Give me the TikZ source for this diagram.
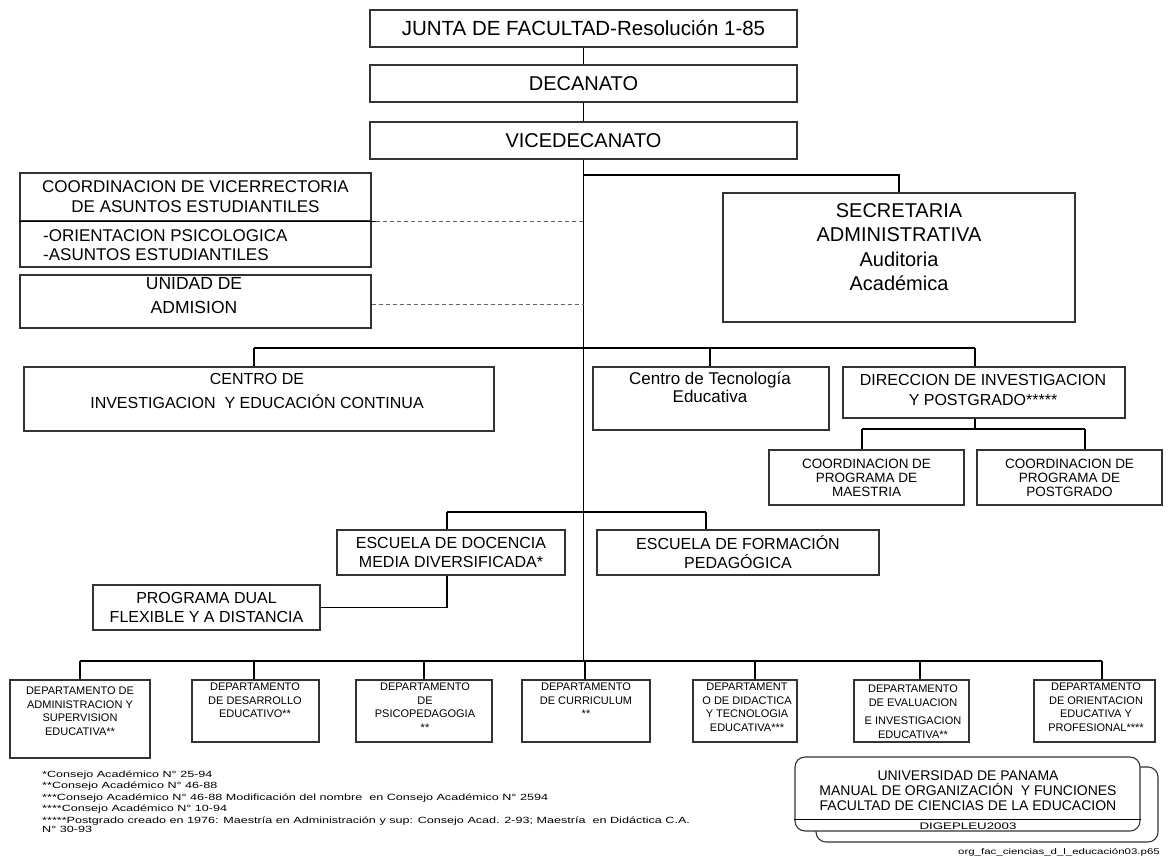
\documentclass[tikz,border=0pt]{standalone}
\usepackage{fontspec}
\setmainfont{Liberation Sans}
\newfontfamily\wideface[FakeStretch=1.4]{Liberation Sans}
\newcommand\fsz[2]{\fontsize{#1}{#2}\selectfont}
\tikzset{
  box/.style={draw=black!80,line width=1.1pt,fill=white,inner sep=0pt,align=center},
  txt/.style={inner sep=0pt,align=center},
  link/.style={line width=1.1pt},
  dashlink/.style={black!60,line width=1.2pt,dash pattern=on 4pt off 3pt},
  dept/.style={box,minimum height=62},
  depttxt/.style={txt,anchor=north,font=\fsz{11}{13.5}}
}
\begin{document}
\begin{tikzpicture}[x=1pt,y=-1pt]
  \useasboundingbox[fill=white] (0,0) rectangle (1169,860);
  \node[box,minimum width=427,minimum height=37,font=\fsz{20.5}{24}] (junta) at (583.5,28.5) {JUNTA DE FACULTAD-Resolución 1-85};
  \node[box,minimum width=427,minimum height=37,font=\fsz{20}{24}] (decanato) at (583.5,83.5) {DECANATO};
  \node[box,minimum width=427,minimum height=37,font=\fsz{20}{24}] (vice) at (583.5,140.5) {VICEDECANATO};
  \draw[link] (junta) -- (decanato);
  \draw[link] (decanato) -- (vice);
  \coordinate (jsec) at (583.5,175);
  \coordinate (jrow) at (583.5,348);
  \coordinate (jesc) at (583.5,512);
  \coordinate (jdep) at (583.5,661);
  \draw[link] (vice.south) -- (jdep);
  \node[box,minimum width=351,minimum height=48,font=\fsz{17}{20}] (coordA) at (195.5,197) {COORDINACION DE VICERRECTORIA\\DE ASUNTOS ESTUDIANTILES};
  \node[box,minimum width=351,minimum height=46] (coordB) at (195.5,244) {};
  \node[txt,align=left,anchor=west,font=\fsz{17}{19.5}] (coordB-t) at (43,245) {-ORIENTACION PSICOLOGICA\\-ASUNTOS ESTUDIANTILES};
  \node[box,minimum width=351,minimum height=53] (unidad) at (195.5,301.5) {};
  \node[txt,font=\fsz{17.5}{24}] (unidad-t) at (194,296) {UNIDAD DE\\ADMISION};
  \draw[link] (coordA.south west) -- ++(357,0) coordinate (dA);
  \draw[dashlink] (dA) -- (dA -| jdep);
  \draw[dashlink] ([yshift=-3pt]unidad.east) -- ([yshift=-3pt]unidad.east -| jdep);
  \node[box,minimum width=352,minimum height=129] (secre) at (899,257.5) {};
  \node[txt,font=\fsz{20}{24.5}] (secre-t) at (899,247) {SECRETARIA\\ADMINISTRATIVA\\Auditoria\\Académica};
  \draw[link] (jsec) -| (secre.north);
  \node[box,minimum width=470,minimum height=64] (cinv) at (259,399) {};
  \node[txt,font=\fsz{16}{24}] (cinv-t) at (257,391) {CENTRO DE\\INVESTIGACION\ \ Y EDUCACIÓN CONTINUA};
  \node[box,minimum width=236,minimum height=63] (ctec) at (711,398.5) {};
  \node[txt,font=\fsz{17}{18}] (ctec-t) at (710,387) {Centro de Tecnología\\Educativa};
  \node[box,minimum width=282,minimum height=51] (dirp) at (984,392.5) {};
  \node[txt,font=\fsz{16}{20}] (dirp-t) at (983,390) {DIRECCION DE INVESTIGACION\\Y POSTGRADO*****};
  \coordinate (jci) at (254,348);
  \coordinate (jct) at (710,348);
  \coordinate (jdi) at (975,348);
  \draw[link] (jci) -- (jdi);
  \draw[link] (jci) -- (jci |- cinv.north);
  \draw[link] (jct) -- (jct |- ctec.north);
  \draw[link] (jdi) -- (jdi |- dirp.north);
  \node[box,minimum width=195,minimum height=55,font=\fsz{13.5}{14}] (cmae) at (866.5,477.5) {COORDINACION DE\\PROGRAMA DE\\MAESTRIA};
  \node[box,minimum width=185,minimum height=55,font=\fsz{13.5}{14}] (cpos) at (1069.5,477.5) {COORDINACION DE\\PROGRAMA DE\\POSTGRADO};
  \coordinate (jpo) at (975,429);
  \coordinate (jma) at (862,429);
  \coordinate (jpg) at (1085,429);
  \draw[link] (jpo |- dirp.south) -- (jpo);
  \draw[link] (jma) -- (jpg);
  \draw[link] (jma) -- (jma |- cmae.north);
  \draw[link] (jpg) -- (jpg |- cpos.north);
  \node[box,minimum width=228,minimum height=45,font=\fsz{16}{19}] (edoc) at (451,552.5) {ESCUELA DE DOCENCIA\\MEDIA DIVERSIFICADA*};
  \node[box,minimum width=282,minimum height=45,font=\fsz{16}{19}] (efor) at (738,552.5) {ESCUELA DE FORMACIÓN\\PEDAGÓGICA};
  \coordinate (jed) at (447,512);
  \coordinate (jef) at (706,512);
  \draw[link] (jed) -- (jef);
  \draw[link] (jed) -- (jed |- edoc.north);
  \draw[link] (jef) -- (jef |- efor.north);
  \node[box,minimum width=227,minimum height=45,font=\fsz{16}{19}] (pdual) at (206.5,607.5) {PROGRAMA DUAL\\FLEXIBLE Y A DISTANCIA};
  \draw[link] (jed |- edoc.south) |- (pdual.east);
  \node[dept,minimum width=140,minimum height=78] (d1) at (80,719) {};
  \node[dept,minimum width=127] (d2) at (255.5,711) {};
  \node[dept,minimum width=136] (d3) at (424,711) {};
  \node[dept,minimum width=128] (d4) at (586,711) {};
  \node[dept,minimum width=104] (d5) at (745,711) {};
  \node[dept,minimum width=115] (d6) at (911.5,711) {};
  \node[dept,minimum width=121] (d7) at (1094.5,711) {};
  \node[depttxt] (d1-t) at (80,687) {DEPARTAMENTO DE\\ADMINISTRACION Y\\SUPERVISION\\EDUCATIVA**};
  \node[depttxt] (d2-t) at (255,683) {DEPARTAMENTO\\DE DESARROLLO\\EDUCATIVO**};
  \node[depttxt] (d3-t) at (425,683) {DEPARTAMENTO\\DE\\PSICOPEDAGOGIA\\**};
  \node[depttxt] (d4-t) at (586,683) {DEPARTAMENTO\\DE CURRICULUM\\**};
  \node[depttxt] (d5-t) at (747,683) {DEPARTAMENT\\O DE DIDACTICA\\Y TECNOLOGIA\\EDUCATIVA***};
  \node[depttxt] (d6-t) at (913,685) {DEPARTAMENTO\\DE EVALUACION\\[5pt]E INVESTIGACION\\EDUCATIVA**};
  \node[depttxt] (d7-t) at (1096,683) {DEPARTAMENTO\\DE ORIENTACION\\EDUCATIVA Y\\PROFESIONAL****};
  \draw[link] (80,661) -- (1102,661);
  \foreach \n/\x in {d1/80,d2/254,d3/424,d4/585,d5/755,d6/920,d7/1102}{
    \coordinate (t\n) at (\x,661);
    \draw[link] (t\n) -- (t\n |- \n.north);
  }
  \node[txt,align=left,anchor=west,font=\wideface\fsz{9}{11.6}] (notes) at (42,798) {*Consejo Académico N° 25-94\\**Consejo Académico N° 46-88\\***Consejo Académico N° 46-88 Modificación del nombre\ \ en Consejo Académico N° 2594\\****Consejo Académico N° 10-94\\*****Postgrado creado en 1976: Maestría en Administración y sup: Consejo Acad. 2-93; Maestría\ \ en Didáctica C.A.};
  \node[txt,anchor=west,font=\wideface\fsz{9}{11.6}] (notes-b) at (42,829) {N° 30-93};
  \node[draw=black!80,line width=1.1pt,fill=white,rounded corners=10pt,minimum width=342,minimum height=75] (uback) at (987,804.5) {};
  \node[draw=black!80,line width=1.1pt,fill=white,rounded corners=10pt,minimum width=345,minimum height=74] (ufront) at (967.5,794) {};
  \draw[link] ([yshift=12pt]ufront.south west) -- ([yshift=12pt]ufront.south east);
  \node[txt,font=\fsz{14}{15}] (ufront-t) at (968,791) {UNIVERSIDAD DE PANAMA\\MANUAL DE ORGANIZACIÓN\ \ Y FUNCIONES\\FACULTAD DE CIENCIAS DE LA EDUCACION};
  \node[txt,font=\wideface\fsz{9.5}{11}] (ufront-b) at (968,826) {DIGEPLEU2003};
  \node[txt,anchor=east,font=\wideface\fsz{8.2}{10}] (fname) at (1160,852) {org\_fac\_ciencias\_d\_l\_educación03.p65};
\end{tikzpicture}
\end{document}
